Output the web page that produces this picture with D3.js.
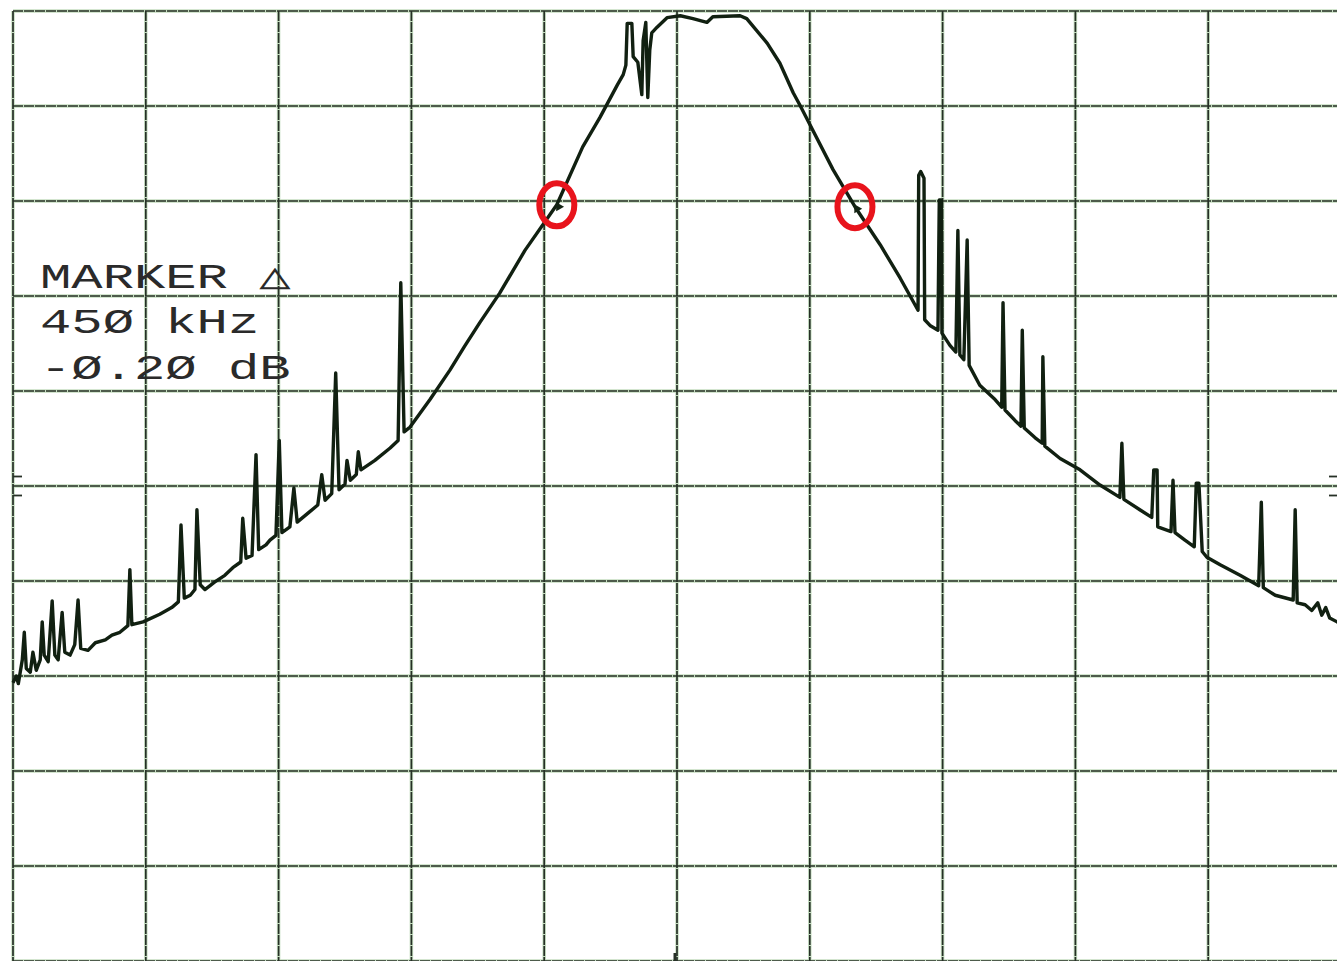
<!DOCTYPE html>
<html>
<head>
<meta charset="utf-8">
<script src="https://cdnjs.cloudflare.com/ajax/libs/d3/7.8.5/d3.min.js"></script>
<style>
    body { margin: 0; background: #fff; overflow: hidden; }
    .grid-halo { stroke: #c4dcbf; stroke-width: 3.5; }
    .grid-line { stroke: #263026; stroke-width: 1.7; stroke-dasharray: 10 1; }
    .ref-tick { stroke: #263026; stroke-width: 1.8; }
    .trace { fill: none; stroke: #112011; stroke-width: 3.4; stroke-linejoin: round; }
    .marker-text { font-family: "Liberation Mono", "DejaVu Sans Mono", monospace; font-size: 36px; fill: #2a2a2a; }
    .marker-ring { fill: none; stroke: #e8141c; stroke-width: 6; }
</style>
</head>
<body>
<div id="plot"></div>
<script>
// trace: offset from centre frequency (kHz), level (dB, ref = top line)
const freqKHz = [
    -1000, -995, -992, -986, -983, -980, -974, -970, -965, -959, -956, -953, -947, -941, -937, -932,
    -926, -922, -914, -907, -902, -898, -887, -876, -861, -851, -839, -827, -824, -821, -804, -779,
    -761, -751, -747, -742, -733, -726, -723, -718, -711, -696, -681, -669, -657, -654, -649, -640,
    -634, -630, -619, -613, -604, -599, -595, -583, -577, -572, -553, -541, -535, -530, -520, -514,
    -509, -500, -497, -492, -483, -480, -476, -455, -432, -420, -416, -411, -402, -372, -342, -320,
    -297, -267, -229, -181, -142, -116, -90, -81, -77, -75, -68, -66, -59, -53, -51, -47, -44,
    -41, -38, -30, -15, 5, 24, 45, 54, 95, 105, 136, 155, 175, 185, 235, 268,
    306, 336, 363, 364, 367, 372, 373, 381, 393, 395, 398, 399, 411, 420, 423, 426,
    432, 437, 440, 456, 479, 489, 491, 494, 509, 518, 520, 523, 539, 550, 551, 554,
    577, 607, 637, 667, 670, 673, 697, 715, 718, 723, 724, 744, 747, 750, 765, 779,
    782, 786, 791, 798, 818, 848, 876, 880, 883, 901, 928, 931, 934, 946, 956, 965,
    971, 977, 983, 994, 1000
];
const levelDb = [
    -70.7, -70.0, -70.8, -68.3, -65.4, -69.2, -69.6, -67.5, -69.4, -68.3, -64.3, -67.8, -68.5, -62.1, -67.8, -68.3,
    -63.3, -67.5, -67.8, -66.7, -62.0, -67.1, -67.3, -66.5, -66.2, -65.7, -65.4, -64.7, -58.8, -64.6, -64.3, -63.5,
    -62.8, -62.2, -54.1, -61.8, -61.5, -60.9, -52.5, -60.4, -60.9, -60.1, -59.4, -58.6, -58.0, -53.4, -57.6, -57.3,
    -46.7, -56.7, -56.2, -55.7, -55.2, -45.2, -54.9, -54.3, -50.2, -53.8, -52.7, -52.0, -48.8, -51.5, -50.8, -38.1,
    -50.4, -49.8, -47.3, -49.4, -48.8, -46.4, -48.3, -47.3, -46.0, -45.2, -28.6, -44.3, -43.8, -40.9, -37.8, -35.3,
    -32.8, -29.7, -25.2, -20.4, -14.3, -11.2, -7.8, -6.7, -5.7, -1.3, -1.3, -4.8, -5.4, -8.8, -3.1, -1.2, -9.1,
    -4.1, -2.3, -1.7, -0.7, -0.5, -0.8, -1.2, -0.6, -0.5, -0.8, -3.4, -5.5, -8.6, -9.9, -16.7, -20.6,
    -24.6, -28.1, -31.5, -17.3, -16.9, -17.6, -32.5, -33.1, -33.6, -19.9, -19.9, -33.9, -35.2, -35.9, -23.1, -36.2,
    -36.7, -24.1, -37.3, -39.4, -40.9, -41.7, -30.7, -42.0, -43.1, -43.7, -33.6, -43.9, -44.9, -45.5, -36.4, -45.8,
    -47.1, -48.3, -49.9, -51.2, -45.5, -51.4, -52.5, -53.3, -48.3, -48.3, -54.3, -54.8, -49.4, -54.9, -55.7, -56.4,
    -49.7, -49.7, -56.9, -57.5, -58.3, -59.4, -60.5, -51.7, -60.7, -61.5, -62.0, -52.5, -62.3, -62.5, -63.1, -62.3,
    -63.6, -62.8, -63.9, -64.3, -64.5
];

// delta markers (circled in red)
const markerFreq = [-181, 268];
const markerDb = [-20.4, -20.6];
const markerLines = ["MARKER \u25B3", "45\u00D8 kHz", "-\u00D8.2\u00D8 dB"];

// 10 x 10 graticule, 200 kHz/div and 10 dB/div
const freqTicks = [-1000, -800, -600, -400, -200, 0, 200, 400, 600, 800, 1000];
const dbTicks = [0, -10, -20, -30, -40, -50, -60, -70, -80, -90, -100];
const refTicks = [-49, -51];


SpectrumPlot = function (_parentElement) {
    this.parentElement = _parentElement;
    this.initVis();
}

SpectrumPlot.prototype.initVis = function () {
    const vis = this;

    vis.width = 1337;
    vis.height = 961;

    vis.svg = d3.select("#" + vis.parentElement).append("svg")
        .attr("width", vis.width)
        .attr("height", vis.height)
        .style("display", "block");

    vis.svg.append("rect")
        .attr("width", vis.width)
        .attr("height", vis.height)
        .attr("fill", "#fff");

    vis.x = d3.scaleLinear().domain([-1000, 1000]).range([13, 1341]);
    vis.y = d3.scaleLinear().domain([-100, 0]).range([961, 11]);

    // graticule, drawn twice: pale green bleed underneath, dark ink on top
    ["grid-halo", "grid-line"].forEach(function (cls) {
        const g = vis.svg.append("g");
        g.selectAll(".v").data(freqTicks).enter().append("line")
            .attr("class", cls)
            .attr("x1", d => vis.x(d)).attr("x2", d => vis.x(d))
            .attr("y1", vis.y(0)).attr("y2", vis.y(-100));
        g.selectAll(".h").data(dbTicks).enter().append("line")
            .attr("class", cls)
            .attr("x1", vis.x(-1000)).attr("x2", vis.x(1000))
            .attr("y1", d => vis.y(d)).attr("y2", d => vis.y(d));
    });

    // small reference ticks either side of the -50 dB line, and centre mark at the bottom
    vis.svg.selectAll(".ref-left").data(refTicks).enter().append("line")
        .attr("class", "ref-tick")
        .attr("x1", vis.x(-1000)).attr("x2", vis.x(-1000) + 9)
        .attr("y1", d => vis.y(d)).attr("y2", d => vis.y(d));
    vis.svg.selectAll(".ref-right").data(refTicks).enter().append("line")
        .attr("class", "ref-tick")
        .attr("x1", vis.x(1000) - 12).attr("x2", vis.x(1000) - 4)
        .attr("y1", d => vis.y(d)).attr("y2", d => vis.y(d));
    vis.svg.append("line")
        .attr("class", "ref-tick")
        .attr("x1", vis.x(0) - 2).attr("x2", vis.x(0) - 2)
        .attr("y1", vis.y(-100) - 8).attr("y2", vis.y(-100))
        .style("stroke-width", 3);

    vis.line = d3.line()
        .x(d => vis.x(d[0]))
        .y(d => vis.y(d[1]));

    vis.traceData = freqKHz.map((f, i) => [f, levelDb[i]]);

    vis.svg.append("path")
        .datum(vis.traceData)
        .attr("class", "trace")
        .attr("d", vis.line);

    // marker annotation
    vis.label = vis.svg.append("g")
        .attr("transform", "translate(40,288) scale(1.45,1)");
    vis.label.selectAll("text").data(markerLines).enter().append("text")
        .attr("class", "marker-text")
        .attr("x", 0)
        .attr("y", (d, i) => i * 45.5)
        .text(d => d);

    vis.markers = markerFreq.map((f, i) => [f, markerDb[i]]);

    vis.svg.selectAll(".marker-sym").data(vis.markers).enter().append("path")
        .attr("d", d3.symbol().type(d3.symbolTriangle).size(36))
        .attr("transform", d => "translate(" + (vis.x(d[0]) + 2) + "," + (vis.y(d[1]) + 2) + ") rotate(-30)")
        .attr("fill", "#132313");

    vis.svg.selectAll(".marker-ring").data(vis.markers).enter().append("ellipse")
        .attr("class", "marker-ring")
        .attr("cx", d => vis.x(d[0]))
        .attr("cy", d => vis.y(d[1]))
        .attr("rx", 17.5)
        .attr("ry", 21.5);
}

new SpectrumPlot("plot");
</script>
</body>
</html>
